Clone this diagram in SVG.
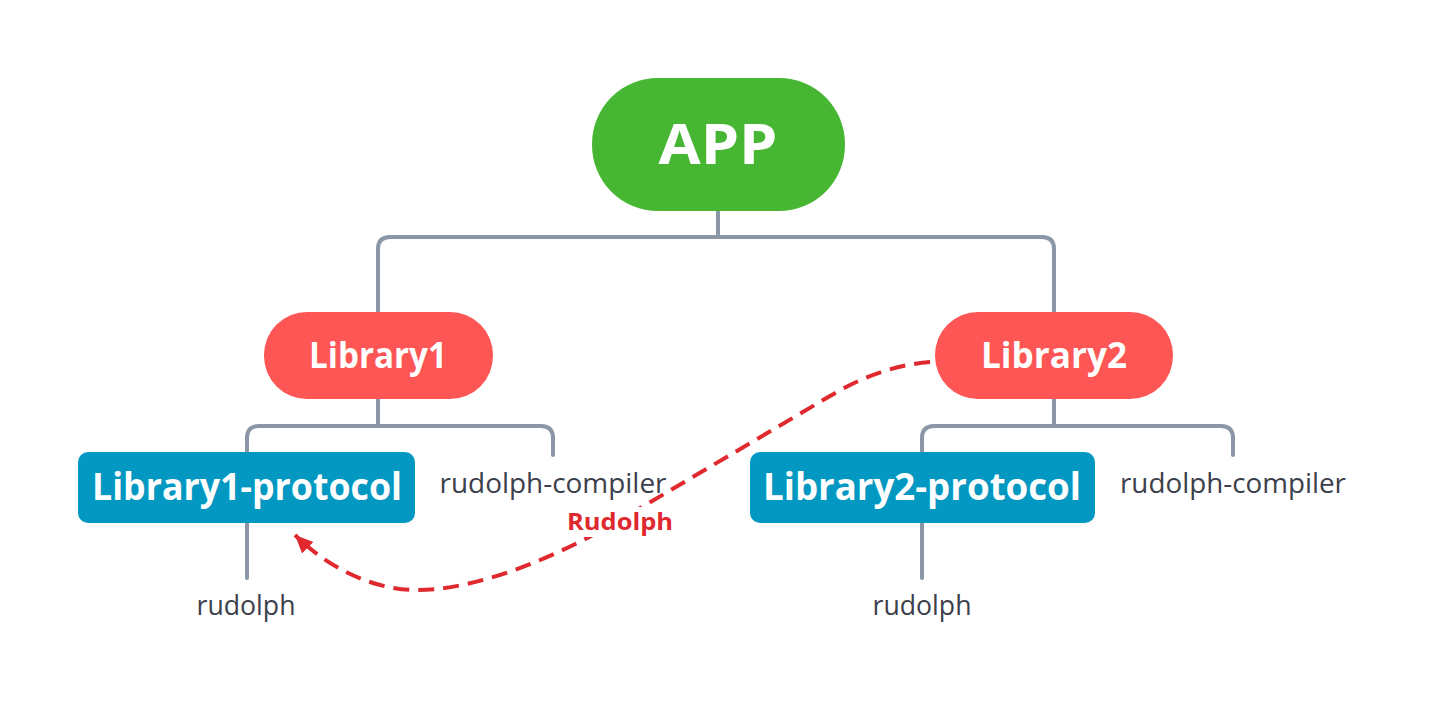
<svg xmlns="http://www.w3.org/2000/svg" width="1437" height="713" viewBox="0 0 1437 713">
  <style>
    .conn { fill: none; stroke: #8b96a7; stroke-width: 4; stroke-linecap: round; stroke-linejoin: round; }
    .dash { fill: none; stroke: #e0292e; stroke-width: 4; stroke-dasharray: 16 9; }
    .lbl { font-family: "Open Sans", "Liberation Sans", sans-serif; font-weight: bold; fill: #ffffff; text-anchor: middle; }
    .leaf { font-family: "Open Sans", "Liberation Sans", sans-serif; font-size: 27px; fill: #3c404b; text-anchor: middle; }
    .edge-lbl { font-family: "Open Sans", "Liberation Sans", sans-serif; font-weight: bold; font-size: 23px; fill: #e0292e; text-anchor: middle; }
  </style>
  <defs>
    <marker id="arrow" markerUnits="userSpaceOnUse" markerWidth="20" markerHeight="20" refX="18" refY="10" orient="auto">
      <path d="M0,2 L18,10 L0,18 Z" fill="#e0292e"/>
    </marker>
  </defs>
  <rect width="1437" height="713" fill="#ffffff"/>

  <g id="connectors">
    <path class="conn" d="M718 211 V237"/>
    <path class="conn" d="M378 312 V249 Q378 237 390 237 H1042 Q1054 237 1054 249 V312"/>
    <path class="conn" d="M378 399 V426"/>
    <path class="conn" d="M247 452 V438 Q247 426 259 426 H541 Q553 426 553 438 V455"/>
    <path class="conn" d="M247 523 V578"/>
    <path class="conn" d="M1054 399 V426"/>
    <path class="conn" d="M922 452 V438 Q922 426 934 426 H1221 Q1233 426 1233 438 V455"/>
    <path class="conn" d="M922 523 V578"/>
    <path class="dash" marker-end="url(#arrow)" d="M930 362 Q880 366 830 396 L620 520 C560 555 480 590 417 590 C370 590 325 565 295 535"/>
    <rect x="562" y="507" width="116" height="30" fill="#ffffff"/>
    <text class="edge-lbl" x="620" y="530" textLength="106" lengthAdjust="spacingAndGlyphs">Rudolph</text>
  </g>

  <g id="app">
    <rect x="592" y="78" width="253" height="133" rx="66" fill="#47b733"/>
    <text class="lbl" x="718" y="164" font-size="56" textLength="119" lengthAdjust="spacingAndGlyphs">APP</text>
  </g>

  <g id="library1">
    <rect x="264" y="312" width="229" height="87" rx="43" fill="#fe5555"/>
    <text class="lbl" x="378" y="368" font-size="36" textLength="138" lengthAdjust="spacingAndGlyphs">Library1</text>
  </g>

  <g id="library2">
    <rect x="935" y="312" width="238" height="87" rx="43" fill="#fe5555"/>
    <text class="lbl" x="1054" y="368" font-size="36" textLength="146" lengthAdjust="spacingAndGlyphs">Library2</text>
  </g>

  <g id="library1-protocol">
    <rect x="78" y="452" width="337" height="71" rx="10" fill="#0398c2"/>
    <text class="lbl" x="247" y="500" font-size="37" textLength="310" lengthAdjust="spacingAndGlyphs">Library1-protocol</text>
  </g>

  <g id="library2-protocol">
    <rect x="750" y="452" width="345" height="71" rx="10" fill="#0398c2"/>
    <text class="lbl" x="922" y="500" font-size="37" textLength="318" lengthAdjust="spacingAndGlyphs">Library2-protocol</text>
  </g>

  <g id="rudolph-compiler-1">
    <text class="leaf" x="553" y="493" textLength="227" lengthAdjust="spacingAndGlyphs">rudolph-compiler</text>
  </g>

  <g id="rudolph-1">
    <text class="leaf" x="246" y="615" textLength="99" lengthAdjust="spacingAndGlyphs">rudolph</text>
  </g>

  <g id="rudolph-compiler-2">
    <text class="leaf" x="1233" y="493" textLength="226" lengthAdjust="spacingAndGlyphs">rudolph-compiler</text>
  </g>

  <g id="rudolph-2">
    <text class="leaf" x="922" y="615" textLength="99" lengthAdjust="spacingAndGlyphs">rudolph</text>
  </g>
</svg>
